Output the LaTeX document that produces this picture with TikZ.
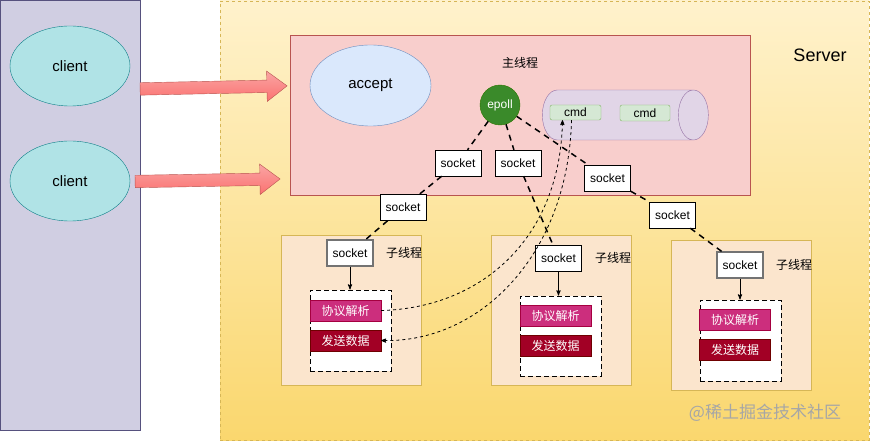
\documentclass[tikz,border=0pt]{standalone}
\usepackage{fontspec}
\setmainfont{Liberation Sans}
\newfontfamily\cjk{Noto Sans CJK SC}
\usetikzlibrary{arrows,shapes.geometric,shapes.arrows,positioning}
\definecolor{panelfill}{HTML}{D0CEE2}
\definecolor{paneldraw}{HTML}{56517E}
\definecolor{clientfill}{HTML}{B0E3E6}
\definecolor{clientdraw}{HTML}{0E8088}
\definecolor{srvtop}{HTML}{FFF2CC}
\definecolor{srvbot}{HTML}{FAD76E}
\definecolor{golddraw}{HTML}{D6B656}
\definecolor{redfill}{HTML}{F8CECC}
\definecolor{reddraw}{HTML}{B85450}
\definecolor{blufill}{HTML}{DAE8FC}
\definecolor{bludraw}{HTML}{6C8EBF}
\definecolor{epollfill}{HTML}{3A8A2A}
\definecolor{epolldraw}{HTML}{2D7600}
\definecolor{purfill}{HTML}{E1D5E7}
\definecolor{purdraw}{HTML}{9673A6}
\definecolor{grnfill}{HTML}{D5E8D4}
\definecolor{grndraw}{HTML}{82B366}
\definecolor{thrfill}{HTML}{FBE5CD}
\definecolor{magfill}{HTML}{CC2E7D}
\definecolor{magdraw}{HTML}{A50040}
\definecolor{dredfill}{HTML}{A20025}
\definecolor{dreddraw}{HTML}{6F0000}
\tikzset{sock/.style={rectangle,draw=black,fill=white,minimum width=46pt,minimum height=26pt,inner sep=0pt,font=\fontsize{12}{14}\selectfont},
		sockin/.style={sock,draw=black!55,line width=1.3pt},
		bar/.style={rectangle,minimum width=71pt,minimum height=21pt,inner sep=0pt,text=white,font=\cjk\fontsize{12}{14}\selectfont},
		link/.style={line width=1.5pt,dash pattern=on 6pt off 5pt},
		call/.style={->,>=stealth',line width=0.8pt,dash pattern=on 3pt off 3pt},
		down/.style={->,>=stealth',line width=0.9pt}}

\begin{document}
\begin{tikzpicture}[x=1pt,y=-1pt,
		thread/.style={rectangle,fill=thrfill,draw=golddraw,minimum width=140pt,minimum height=150pt},
		work/.style={rectangle,fill=white,draw=black,line width=1pt,dash pattern=on 5pt off 3pt,minimum width=81pt,minimum height=81pt},
		fat/.style={single arrow,draw=reddraw,top color=redfill!80!red,bottom color=red!45!redfill,inner sep=6pt,minimum width=30pt,single arrow head extend=9pt,single arrow tip angle=74},
		lbl/.style={font=\cjk\fontsize{12}{14}\selectfont}]
	\useasboundingbox (0,0) rectangle (871,441);
	% server and clients
	\node[rectangle,draw=golddraw,dashed,top color=srvtop,bottom color=srvbot,minimum width=649pt,minimum height=439pt] (server) at (544.5,220.5) {};
	\node[font=\fontsize{18}{20}\selectfont] (srvname) at (820,55) {Server};
	\node[rectangle,fill=panelfill,draw=paneldraw,minimum width=140pt,minimum height=430pt] (clients) at (70,215) {};
	\node[ellipse,fill=clientfill,draw=clientdraw,minimum width=120pt,minimum height=80pt,font=\fontsize{15}{17}\selectfont] (client-a) at (70,66) {client};
	\node[ellipse,fill=clientfill,draw=clientdraw,minimum width=120pt,minimum height=80pt,font=\fontsize{15}{17}\selectfont] (client-b) at (70,181) {client};
	\node[fat,minimum height=147pt,rotate=1.2] (push-a) at (209.5,87.5) {};
	\node[fat,minimum height=145pt,rotate=1] (push-b) at (203.5,180.3) {};
	
	% main thread
	\node[rectangle,fill=redfill,draw=reddraw,minimum width=460pt,minimum height=160pt] (main) at (520,115) {};
	\node[ellipse,fill=blufill,draw=bludraw,minimum width=121pt,minimum height=81pt,font=\fontsize{15}{17}\selectfont] (accept) at (370.5,85.5) {accept};
	\node[lbl] (main-name) at (520,63) {主线程};
	\node[cylinder,fill=purfill,draw=purdraw,minimum width=50pt,minimum height=166pt,aspect=4.5] (queue) at (614,115) {};
	\node[rectangle,rounded corners=2pt,fill=grnfill,draw=grndraw,minimum width=51pt,minimum height=15pt,inner sep=0pt,font=\fontsize{12}{14}\selectfont] (cmd-a) at (575.5,112.5) {cmd};
	\node[rectangle,rounded corners=2pt,fill=grnfill,draw=grndraw,minimum width=50pt,minimum height=16pt,inner sep=0pt,font=\fontsize{12}{14}\selectfont] (cmd-b) at (645,113) {cmd};
	\node[circle,fill=epollfill,draw=epolldraw,minimum size=40pt,inner sep=0pt,text=white,font=\fontsize{12}{14}\selectfont] (epoll) at (500,105) {epoll};
	
	% sockets handed out
	\node[sock] (sock-a) at (458,163) {socket};
	\node[sock] (sock-b) at (518,163) {socket};
	\node[sock] (sock-c) at (607.5,178) {socket};
	\node[sock] (sock-d) at (403,207.5) {socket};
	\node[sock] (sock-e) at (672.5,215) {socket};
	
	% worker threads
	\node[thread] (thread-a) at (351,310) {};
	\node[thread] (thread-b) at (561,310) {};
	\node[thread] (thread-c) at (741,315) {};
	\node[sockin] (in-a) at (350,253) {socket};
	\node[sock] (in-b) at (558.5,258) {socket};
	\node[sockin] (in-c) at (740,265) {socket};
	\node[lbl] (name-a) [right=9pt of in-a] {子线程};
	\node[lbl] (name-b) [right=10pt of in-b] {子线程};
	\node[lbl] (name-c) [right=9pt of in-c] {子线程};
	\node[work] (work-a) at (350.5,330.5) {};
	\node[work,minimum height=80pt] (work-b) at (560.5,336) {};
	\node[work] (work-c) at (740.5,340.5) {};
	\node[bar,fill=magfill,draw=magdraw] (parse-a) at (345.5,310.5) {协议解析};
	\node[bar,fill=dredfill,draw=dreddraw] (send-a) at (345.5,340.5) {发送数据};
	\node[bar,fill=magfill,draw=magdraw] (parse-b) at (555.5,315.5) {协议解析};
	\node[bar,fill=dredfill,draw=dreddraw] (send-b) at (555.5,345.5) {发送数据};
	\node[bar,fill=magfill,draw=magdraw] (parse-c) at (735,320) {协议解析};
	\node[bar,fill=dredfill,draw=dreddraw] (send-c) at (735,350) {发送数据};
	\draw[down] (in-a) -- (in-a |- work-a.north);
	\draw[down] (in-b) -- (in-b |- work-b.north);
	\draw[down] (in-c) -- (in-c |- work-c.north);
	
	% epoll dispatch
	\draw[link] (epoll) -- (sock-a) -- (sock-d) -- (in-a);
	\draw[link] (epoll) -- (sock-b) -- (in-b);
	\draw[link] (epoll) -- (sock-c) -- (sock-e) -- (in-c);
	\draw[call] (parse-a.east) .. controls (480,308) and (560,240) .. ([xshift=-13pt]cmd-a.south);
	\draw[call] ([xshift=-4pt]cmd-a.south) .. controls (568,255) and (480,343) .. (send-a.east);
	
	\node[text=black!35,font=\cjk\fontsize{17}{19}\selectfont] (mark) at (765,413) {@稀土掘金技术社区};
\end{tikzpicture}
\end{document}
